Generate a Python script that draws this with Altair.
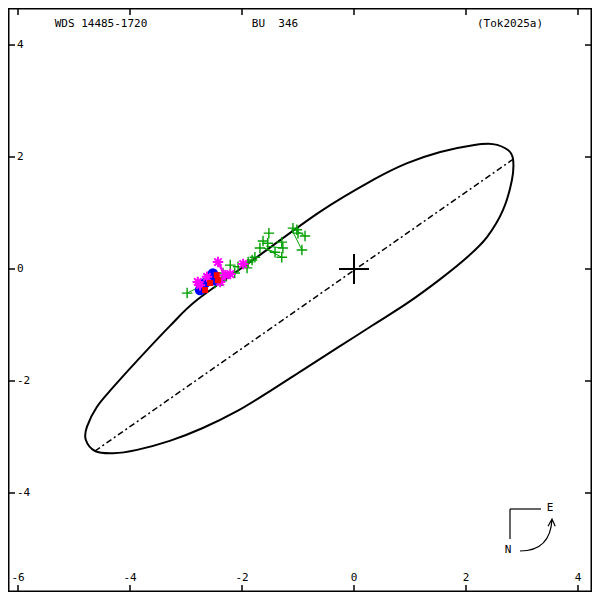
import altair as alt
import pandas as pd

# ---- data ----
ell_x = [2.84, 2.82, 2.66, 2.375, 2.02, 1.54, 0.95, 0.34, -0.30, -0.91, -1.50, -2.09, -2.70, -3.29,
         -3.875, -4.30, -4.625, -4.79, -4.77, -4.59, -4.30, -3.875, -3.29, -2.80, -1.86, -0.61,
         0.34, 0.95, 1.54, 2.125, 2.48, 2.75]
ell_y = [1.96, 1.59, 1.05, 0.57, 0.21, -0.18, -0.61, -1.00, -1.41, -1.80, -2.18, -2.54, -2.84, -3.07,
         -3.23, -3.29, -3.25, -3.05, -2.82, -2.46, -2.11, -1.64, -1.02, -0.55, 0.12, 1.02,
         1.59, 1.89, 2.09, 2.21, 2.23, 2.125]

aps_x = [-4.625, 2.84]
aps_y = [-3.25, 1.96]

green_x = [-2.98, -2.48, -2.36, -2.34, -2.21, -2.13, -2.07, -1.91, -1.89, -1.82, -1.77, -1.68, -1.625,
           -1.54, -1.52, -1.41, -1.29, -1.27, -1.29, -1.09, -1.02, -1.00, -0.875, -0.93]
green_y = [-0.43, -0.25, -0.21, -0.07, 0.07, -0.07, 0.04, 0.02, 0.125, 0.16, 0.21, 0.375, 0.50,
           0.46, 0.64, 0.30, 0.48, 0.375, 0.21, 0.73, 0.70, 0.64, 0.59, 0.34]

oc_x = [-0.93, -1.29, -1.41, -1.27, -0.875, -2.98]
oc_y = [0.34, 0.21, 0.30, 0.375, 0.59, -0.43]
oc_x2 = [-1.11, -1.61, -1.61, -1.57, -1.07, -2.80]
oc_y2 = [0.70, 0.375, 0.375, 0.41, 0.71, -0.34]

mag_x = [-2.43, -1.98, -2.21, -2.75, -2.625, -2.39, -2.79, -2.30]
mag_y = [0.125, 0.09, -0.09, -0.29, -0.14, -0.23, -0.23, -0.11]
mag_oc_x, mag_oc_y, mag_oc_x2, mag_oc_y2 = [-2.43], [0.125], [-2.30], [-0.125]

blue_x = [-2.66, -2.57, -2.48, -2.70, -2.75, -2.52]
blue_y = [-0.25, -0.14, -0.20, -0.34, -0.375, -0.08]

red_x = [-2.57, -2.66, -2.43, -2.45]
red_y = [-0.25, -0.375, -0.20, -0.11]

x_ticks = [-6, -4, -2, 0, 2, 4]
y_ticks = [-4, -2, 0, 2, 4]
titles = ["WDS 14485-1720", "BU\u00a0\u00a0346", "(Tok2025a)"]

# ---- layout ----
W = H = 584
FONT = "DejaVu Sans Mono"
xs = alt.Scale(domain=[-6.179, 4.25], nice=False, zero=False)
ys = alt.Scale(domain=[-5.768, 4.661], nice=False, zero=False)

def X(f="x"):
    return alt.X(f, type="quantitative", scale=xs, axis=None)

def Y(f="y"):
    return alt.Y(f, type="quantitative", scale=ys, axis=None)

ell = pd.DataFrame({"x": ell_x, "y": ell_y, "i": range(len(ell_x))})
aps = pd.DataFrame({"x": aps_x, "y": aps_y, "i": range(2)})
green = pd.DataFrame({"x": green_x, "y": green_y})
oc = pd.DataFrame({"x": oc_x, "y": oc_y, "x2": oc_x2, "y2": oc_y2})
mag = pd.DataFrame({"x": mag_x, "y": mag_y})
moc = pd.DataFrame({"x": mag_oc_x, "y": mag_oc_y, "x2": mag_oc_x2, "y2": mag_oc_y2})
blue = pd.DataFrame({"x": blue_x, "y": blue_y})
red = pd.DataFrame({"x": red_x, "y": red_y})
prim = pd.DataFrame({"x": [0.0], "y": [0.0]})
xt = pd.DataFrame({"v": x_ticks, "t": [str(v) for v in x_ticks]})
yt = pd.DataFrame({"v": y_ticks, "t": [str(v) for v in y_ticks]})

PLUS = "M-1,0L1,0M0,-1L0,1"
STAR = "M-1,0L1,0M0,-1L0,1M-0.7,-0.7L0.7,0.7M-0.7,0.7L0.7,-0.7"
GREEN = "#00a000"

ellipse = alt.Chart(ell).mark_line(color="black", strokeWidth=2, interpolate="cardinal-closed").encode(
    x=X(), y=Y(), order="i:Q")
apsides = alt.Chart(aps).mark_line(color="black", strokeWidth=1.5, strokeDash=[6, 3, 2, 3]).encode(
    x=X(), y=Y(), order="i:Q")
oc_lines = alt.Chart(oc).mark_rule(color=GREEN, strokeWidth=1).encode(
    x=X(), y=Y(), x2="x2:Q", y2="y2:Q")
greens = alt.Chart(green).mark_point(shape=PLUS, size=110, color=GREEN, strokeWidth=1.4,
                                      filled=False, opacity=1).encode(x=X(), y=Y())
blues = alt.Chart(blue).mark_point(shape="circle", size=110, color="#0000ff", filled=True,
                                   opacity=1).encode(x=X(), y=Y())
reds = alt.Chart(red).mark_point(shape="square", size=36, color="#ff0000", filled=True,
                                 opacity=1).encode(x=X(), y=Y())
moc_lines = alt.Chart(moc).mark_rule(color="#ff00ff", strokeWidth=2.5).encode(
    x=X(), y=Y(), x2="x2:Q", y2="y2:Q")
mags = alt.Chart(mag).mark_point(shape=STAR, size=110, color="#ff00ff", strokeWidth=2,
                                 filled=False, opacity=1).encode(x=X(), y=Y())
primary = alt.Chart(prim).mark_point(shape=PLUS, size=900, color="black", strokeWidth=2,
                                     filled=False, opacity=1).encode(x=X(), y=Y())

tick_bot = alt.Chart(xt).mark_rule(color="black", strokeWidth=1.5).encode(
    x=X("v"), y=alt.value(H - 7), y2=alt.value(H))
tick_top = alt.Chart(xt).mark_rule(color="black", strokeWidth=1.5).encode(
    x=X("v"), y=alt.value(0), y2=alt.value(7))
tick_left = alt.Chart(yt).mark_rule(color="black", strokeWidth=1.5).encode(
    y=Y("v"), x=alt.value(0), x2=alt.value(7))
tick_right = alt.Chart(yt).mark_rule(color="black", strokeWidth=1.5).encode(
    y=Y("v"), x=alt.value(W - 7), x2=alt.value(W))
lab_x = alt.Chart(xt).mark_text(font=FONT, fontSize=11, baseline="bottom", align="center",
                                color="black").encode(x=X("v"), y=alt.value(H - 9), text="t:N")
lab_y = alt.Chart(yt).mark_text(font=FONT, fontSize=11, baseline="middle", align="left",
                                color="black").encode(y=Y("v"), x=alt.value(9), text="t:N")

tdf = pd.DataFrame({"t": titles, "px": [93, 267, 502]})
title_txt = alt.Chart(tdf).mark_text(font=FONT, fontSize=11, baseline="middle", align="center",
                                     color="black").encode(x=alt.X("px:Q", scale=None),
                                                           y=alt.value(16), text="t:N")

# compass
comp_h = alt.Chart(prim).mark_rule(color="black", strokeWidth=1.2).encode(
    x=alt.value(502), x2=alt.value(533), y=alt.value(501))
comp_v = alt.Chart(prim).mark_rule(color="black", strokeWidth=1.2).encode(
    x=alt.value(502), y=alt.value(501), y2=alt.value(531))
ARC = "M-1,1Q0.9,1 1,-1M0.75,-0.55L1,-1L1.2,-0.55"
comp_arc = alt.Chart(prim).mark_point(shape=ARC, size=1024, color="black", strokeWidth=1.2,
                                      filled=False, opacity=1).encode(x=alt.value(528),
                                                                      y=alt.value(527))
comp_e = alt.Chart(prim).mark_text(text="E", font=FONT, fontSize=11, color="black",
                                   baseline="middle", align="center").encode(
    x=alt.value(542), y=alt.value(500))
comp_n = alt.Chart(prim).mark_text(text="N", font=FONT, fontSize=11, color="black",
                                   baseline="middle", align="center").encode(
    x=alt.value(500), y=alt.value(542))

chart = alt.layer(
    ellipse, apsides, oc_lines, greens, blues, moc_lines, mags, reds, primary,
    tick_bot, tick_top, tick_left, tick_right, lab_x, lab_y, title_txt,
    comp_h, comp_v, comp_arc, comp_e, comp_n,
).properties(width=W, height=H, padding=0, background="white",
             autosize=alt.AutoSizeParams(type="none")
).configure_view(stroke="black", strokeWidth=3)

chart.save("out.html", embed_options={"renderer": "svg", "actions": False})
